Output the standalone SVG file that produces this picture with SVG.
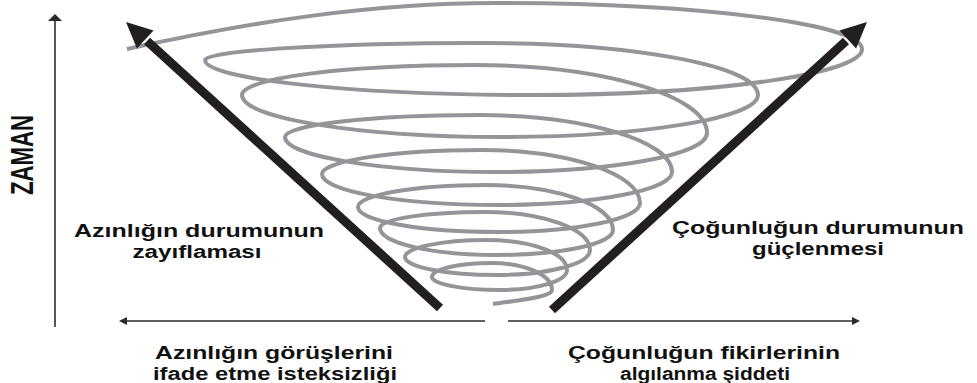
<svg xmlns="http://www.w3.org/2000/svg" width="977" height="383" viewBox="0 0 977 383">
<style>
.spiral{fill:none;stroke:#939598;stroke-width:4;stroke-linecap:butt}
.bar{fill:none;stroke:#231f20;stroke-width:9;stroke-linecap:butt}
.head{fill:#231f20}
.axis{fill:none;stroke:#2b2b2b;stroke-width:1.6}
.axhead{fill:#2b2b2b}
.lbl{font-family:"Liberation Sans",Arial,sans-serif;font-weight:bold;font-size:18px;fill:#111;text-anchor:middle}
.title{font-family:"Liberation Sans Narrow","Liberation Sans",Arial,sans-serif;font-weight:bold;font-size:31px;fill:#111;text-anchor:middle}
</style>
<g id="spiral">
<path class="spiral" d="M127,49 C250,22 372,3 495,3 C698,3 862,24 862,49
C862,74 715,95 533,95 C352,95 205,79 205,60
C205,51 329,43 481,43 C634,43 758,66 758,95
C758,118 642,137 500,137 C358,137 242,118 242,95
C242,78 346,65 474,65 C603,65 707,96 707,133
C707,155 612,172 496,172 C380,172 285,156 285,137
C285,125 371,115 478,115 C585,115 672,141 672,172
C672,190 594,205 497,205 C400,205 322,191 322,174
C322,161 393,150 481,150 C569,150 640,174 640,203
C640,219 577,232 499,232 C421,232 358,221 358,207
C358,195 415,185 485,185 C556,185 613,205 613,230
C613,244 561,255 496,255 C432,255 380,243 380,228
C380,219 427,212 485,212 C543,212 590,229 590,250
C590,264 548,275 497,275 C446,275 405,267 405,257
C405,248 441,240 486,240 C531,240 567,253 567,270
C567,281 537,290 500,290 C463,290 432,284 432,277
C432,269 459,263 492,263 C525,263 552,275 552,290
C552,297 520,300 493,304"/>
</g>
<g id="left-arrow">
<line class="bar" x1="440" y1="308" x2="147" y2="41"/>
<polygon class="head" points="126,22 153.5,30.4 136.9,48.6"/>
</g>
<g id="right-arrow">
<line class="bar" x1="552" y1="310" x2="846" y2="41"/>
<polygon class="head" points="867,22 856.1,48.6 839.5,30.4"/>
</g>
<g id="connectors">
<line class="axis" x1="55" y1="327" x2="55" y2="20"/>
<polygon class="axhead" points="55,14 62,21 48,21"/>
<line class="axis" x1="485" y1="321" x2="126" y2="321"/>
<polygon class="axhead" points="119,321 127,317 127,325"/>
<line class="axis" x1="508" y1="321" x2="853" y2="321"/>
<polygon class="axhead" points="860,321 852,317 852,325"/>
</g>
<g id="zaman">
<text class="title" transform="translate(33,155) rotate(-90)" textLength="80" lengthAdjust="spacingAndGlyphs">ZAMAN</text>
</g>
<g id="minority-state">
<text class="lbl" x="199" y="237" textLength="250" lengthAdjust="spacingAndGlyphs">Azınlığın durumunun</text>
<text class="lbl" x="197" y="258" textLength="129" lengthAdjust="spacingAndGlyphs">zayıflaması</text>
</g>
<g id="majority-state">
<text class="lbl" x="818" y="234" textLength="292" lengthAdjust="spacingAndGlyphs">Çoğunluğun durumunun</text>
<text class="lbl" x="818" y="255" textLength="132" lengthAdjust="spacingAndGlyphs">güçlenmesi</text>
</g>
<g id="minority-reluctance">
<text class="lbl" x="274" y="359" textLength="238" lengthAdjust="spacingAndGlyphs">Azınlığın görüşlerini</text>
<text class="lbl" x="275" y="380" textLength="244" lengthAdjust="spacingAndGlyphs">ifade etme isteksizliği</text>
</g>
<g id="majority-intensity">
<text class="lbl" x="704" y="359" textLength="272" lengthAdjust="spacingAndGlyphs">Çoğunluğun fikirlerinin</text>
<text class="lbl" x="705" y="380" textLength="170" lengthAdjust="spacingAndGlyphs">algılanma şiddeti</text>
</g>
</svg>
